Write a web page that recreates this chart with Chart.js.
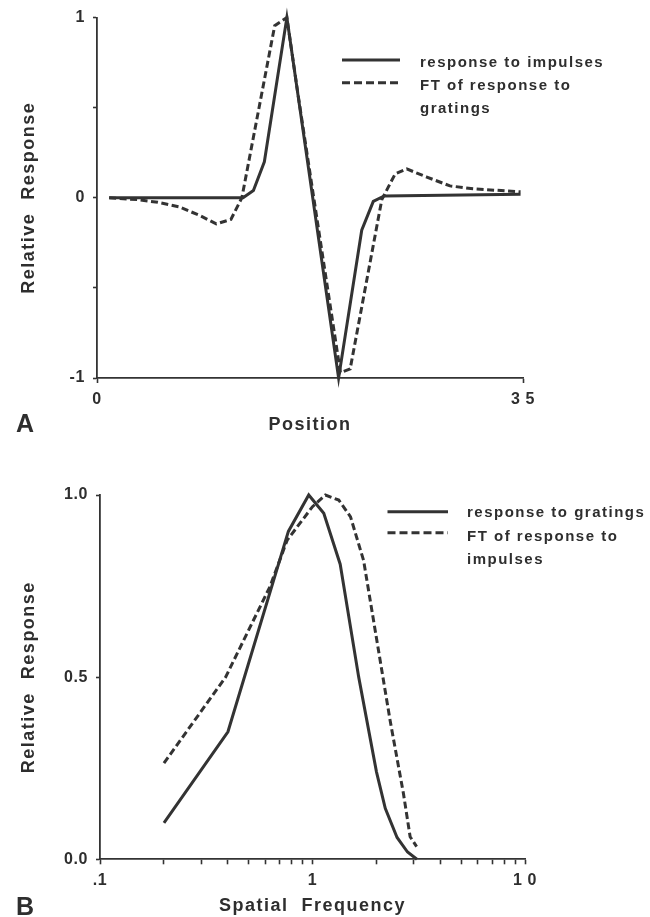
<!DOCTYPE html>
<html><head><meta charset="utf-8">
<script src="https://cdn.jsdelivr.net/npm/chart.js@4.4.1/dist/chart.umd.min.js"></script>
<style>
html,body{margin:0;padding:0;background:#fff;width:650px;height:917px;overflow:hidden;}
canvas{position:absolute;left:0;}
#ca{top:0px} #cb{top:460px}
.panel{position:absolute;font:bold 25px "Liberation Sans",Arial,sans-serif;line-height:25px;color:#2e2e2e;}
</style></head><body>
<canvas id="ca" width="650" height="450"></canvas>
<canvas id="cb" width="650" height="457"></canvas>
<div class="panel" style="left:16px;top:411px">A</div>
<div class="panel" style="left:16px;top:894px">B</div>
<script>
// ---------- Panel A : position domain ----------
const impulsePos = [1, 12, 12.85, 13.75, 15.6, 19.85, 21.75, 22.7, 23.6, 34.8];
const impulseResp = [0, 0, 0.04, 0.2, 1.0, -1.0, -0.18, -0.02, 0.01, 0.02];
const ftGratingPos = [1, 3.3, 5, 6.75, 8.5, 9.8, 11.0, 11.9, 14.6, 15.6, 16.5, 20.0, 20.8, 23.4, 24.5, 25.45, 27.1, 29, 30.9, 34.8];
const ftGratingResp = [0, -0.01, -0.025, -0.05, -0.1, -0.145, -0.12, 0.0, 0.955, 1.0, 0.58, -0.97, -0.95, -0.01, 0.133, 0.16, 0.115, 0.066, 0.05, 0.033];
const xTicksA = [0, 35];
const xTickLabelsA = ['0', '3 5'];
const yTicksA = [-1, -0.5, 0, 0.5, 1];
const yTickLabelsA = ['-1', '', '0', '', '1'];
const legendA = [['response to impulses'], ['FT of response to', 'gratings']];

// ---------- Panel B : spatial frequency domain ----------
const gratingFreq = [0.2, 0.4, 0.77, 0.96, 1.13, 1.35, 1.65, 2.0, 2.2, 2.5, 2.8, 3.1];
const gratingResp = [0.10, 0.35, 0.90, 1.0, 0.95, 0.81, 0.50, 0.24, 0.14, 0.06, 0.02, 0.0];
const ftImpulseFreq = [0.2, 0.39, 0.63, 0.76, 1.0, 1.15, 1.33, 1.51, 1.74, 2.08, 2.32, 2.68, 2.88, 3.09];
const ftImpulseResp = [0.264, 0.50, 0.748, 0.876, 0.968, 1.0, 0.986, 0.94, 0.82, 0.547, 0.38, 0.18, 0.062, 0.035];
const xTicksB = [0.1, 0.2, 0.3, 0.4, 0.5, 0.6, 0.7, 0.8, 0.9, 1, 2, 3, 4, 5, 6, 7, 8, 9, 10];
const xTickLabelsB = ['.1', '', '', '', '', '', '', '', '', '1', '', '', '', '', '', '', '', '', '1 0'];
const yTicksB = [0, 0.5, 1];
const yTickLabelsB = ['0.0', '0.5', '1.0'];
const legendB = [['response to gratings'], ['FT of response to', 'impulses']];

// ---------- styling ----------
const INK = '#2e2e2e';
const LINE = '#333333';
const FONT = '"Liberation Sans", Arial, sans-serif';
const toPts = (xs, ys) => xs.map((x, i) => ({x: x, y: ys[i]}));

const spacingPlugin = {
  id: 'spacing',
  beforeDraw(chart) { chart.ctx.letterSpacing = '0.6px'; }
};

function spacedTitle(s) {
  if (s._spacedTitle) return;
  const orig = s.drawTitle;
  s.drawTitle = function () {
    const c = this.ctx, prev = c.letterSpacing;
    c.letterSpacing = '1.5px';
    orig.apply(this, arguments);
    c.letterSpacing = prev;
  };
  s._spacedTitle = true;
}

const legendPlugin = {
  id: 'manualLegend',
  afterDatasetsDraw(chart, args, o) {
    const ctx = chart.ctx;
    ctx.save();
    o.items.forEach((lines, i) => {
      const ds = chart.data.datasets[i];
      const ly = o.lineY[i];
      ctx.strokeStyle = ds.borderColor;
      ctx.lineWidth = ds.borderWidth;
      ctx.setLineDash(i === 0 ? [] : [8, 4]);
      ctx.beginPath(); ctx.moveTo(o.x0, ly); ctx.lineTo(o.x1, ly); ctx.stroke();
      ctx.setLineDash([]);
      ctx.font = 'bold 15px ' + FONT;
      ctx.letterSpacing = '1.5px';
      ctx.fillStyle = INK;
      ctx.textBaseline = 'alphabetic';
      ctx.textAlign = 'left';
      lines.forEach((t, j) => ctx.fillText(t, o.textX, o.baseY[i] + j * 23.3));
    });
    ctx.restore();
  }
};

function makeChart(id, cfg) {
  return new Chart(document.getElementById(id), {
    type: 'line',
    data: {datasets: [
      {label: cfg.labels[0].join(' '), data: cfg.d0, borderColor: LINE, borderWidth: 3, pointRadius: 0, tension: 0, clip: false},
      {label: cfg.labels[1].join(' '), data: cfg.d1, borderColor: LINE, borderWidth: 3, borderDash: [7, 3.5], pointRadius: 0, tension: 0, clip: false}
    ]},
    options: {
      responsive: false, animation: false, devicePixelRatio: 1,
      layout: {padding: cfg.padding},
      plugins: {legend: {display: false}, tooltip: {enabled: false}, manualLegend: cfg.legend},
      scales: {
        x: {
          type: cfg.xType, min: cfg.xMin, max: cfg.xMax,
          afterBuildTicks: s => { s.ticks = cfg.xTicks.map(v => ({value: v})); },
          afterFit: s => { s.height = cfg.xHeight; spacedTitle(s); },
          ticks: {autoSkip: false, maxRotation: 0, minRotation: 0, padding: 7, color: INK,
                  font: {family: FONT, size: 16, weight: 'bold'},
                  callback: (v, i) => cfg.xLabels[i]},
          grid: {drawOnChartArea: false, drawTicks: true, tickLength: 5, tickColor: LINE, tickWidth: 1.6},
          border: {display: true, color: LINE, width: 1.8},
          title: {display: true, text: cfg.xTitle, color: INK, padding: {top: 0, bottom: cfg.xTitlePad},
                  font: {family: FONT, size: 18, weight: 'bold'}}
        },
        y: {
          type: 'linear', min: cfg.yMin, max: cfg.yMax,
          afterBuildTicks: s => { s.ticks = cfg.yTicks.map(v => ({value: v})); },
          afterFit: s => { s.width = cfg.yWidth; spacedTitle(s); },
          ticks: {autoSkip: false, padding: 8, color: INK,
                  font: {family: FONT, size: 16, weight: 'bold'},
                  callback: (v, i) => cfg.yLabels[i]},
          grid: {drawOnChartArea: false, drawTicks: true, tickLength: 4, tickColor: LINE, tickWidth: 1.6},
          border: {display: true, color: LINE, width: 1.8},
          title: {display: true, text: 'Relative  Response', color: INK, padding: {top: 18, bottom: 0},
                  font: {family: FONT, size: 18, weight: 'bold'}}
        }
      }
    },
    plugins: [spacingPlugin, legendPlugin]
  });
}

makeChart('ca', {
  labels: legendA,
  d0: toPts(impulsePos, impulseResp), d1: toPts(ftGratingPos, ftGratingResp),
  padding: {left: 0, right: 127, top: 13, bottom: 0},
  xType: 'linear', xMin: 0, xMax: 35, xTicks: xTicksA, xLabels: xTickLabelsA, xHeight: 72,
  xTitle: 'Position', xTitlePad: 14,
  yMin: -1, yMax: 1, yTicks: yTicksA, yLabels: yTickLabelsA, yWidth: 97,
  legend: {items: legendA, x0: 342, x1: 400, lineY: [60, 82.7], textX: 420, baseY: [66.7, 90]}
});

makeChart('cb', {
  labels: legendB,
  d0: toPts(gratingFreq, gratingResp), d1: toPts(ftImpulseFreq, ftImpulseResp),
  padding: {left: 0, right: 125, top: 35, bottom: 0},
  xType: 'logarithmic', xMin: 0.1, xMax: 10, xTicks: xTicksB, xLabels: xTickLabelsB, xHeight: 57.7,
  xTitle: 'Spatial  Frequency', xTitlePad: 0,
  yMin: 0, yMax: 1, yTicks: yTicksB, yLabels: yTickLabelsB, yWidth: 100,
  legend: {items: legendB, x0: 387.5, x1: 448, lineY: [51.7, 72.7], textX: 467, baseY: [57.3, 81]}
});
</script>
</body></html>
